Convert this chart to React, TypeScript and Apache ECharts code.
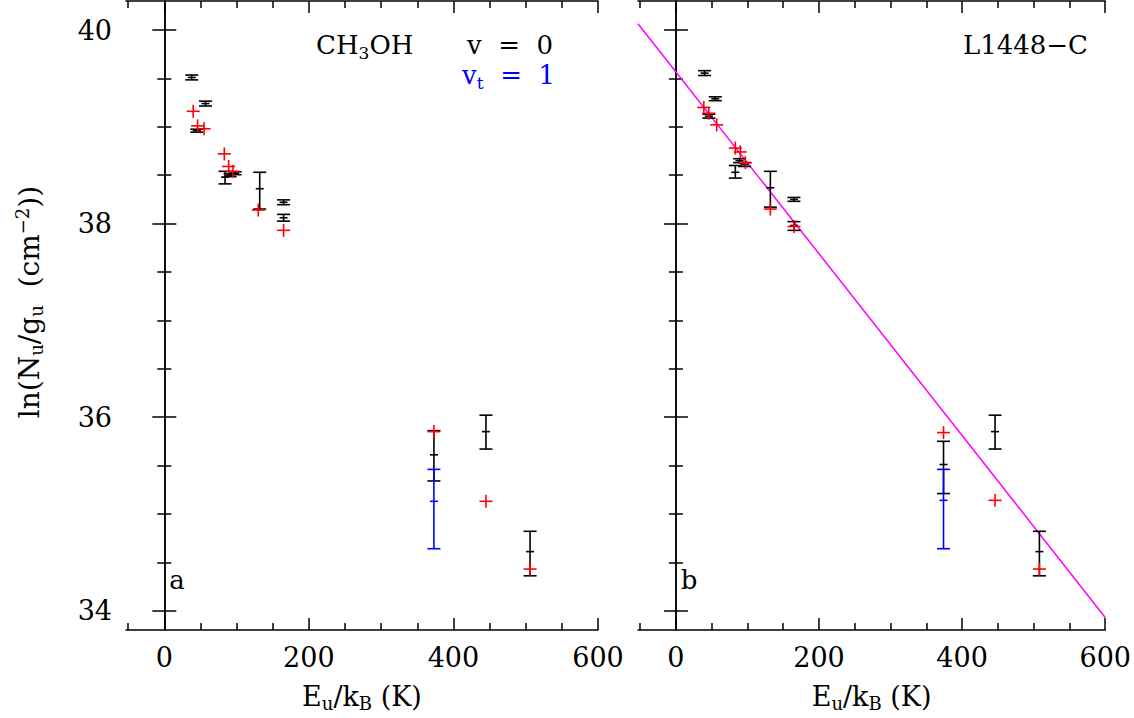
import React, { useEffect, useRef } from "react";
import * as echarts from "echarts";

// ---- axis ranges & ticks ----
const X_MIN = -53;
const X_MAX = 600;
const Y_MIN = 33.8;
const Y_MAX = 40.3;
const xMajorTicks = [0, 200, 400, 600];
const xMinorTicks = [-50, 50, 100, 150, 250, 300, 350, 450, 500, 550];
const yMajorTicks = [34, 36, 38, 40];
const yMinorTicks = [34.5, 35, 35.5, 36.5, 37, 37.5, 38.5, 39, 39.5];

// ---- panel a : v = 0 (black, with error bars) ----
const aV0E = [38, 45, 57, 84, 91, 98, 132, 165, 165, 373, 445, 506];
const aV0Ln = [39.51, 38.96, 39.24, 38.48, 38.5, 38.52, 38.36, 38.22, 38.06, 35.61, 35.85, 34.61];
const aV0Lo = [39.485, 38.945, 39.215, 38.41, 38.485, 38.505, 38.15, 38.195, 38.025, 35.34, 35.67, 34.36];
const aV0Hi = [39.535, 38.975, 39.265, 38.54, 38.515, 38.535, 38.53, 38.245, 38.095, 35.86, 36.02, 34.82];
// panel a : vt = 1 (blue)
const aVt1E = [373];
const aVt1Ln = [35.13];
const aVt1Lo = [34.64];
const aVt1Hi = [35.46];
// panel a : red crosses
const aRedE = [40, 46, 55, 83, 89, 95, 130, 165, 373, 445, 506];
const aRedLn = [39.16, 39.01, 38.98, 38.72, 38.59, 38.54, 38.14, 37.93, 35.85, 35.13, 34.43];

// ---- panel b ----
const bV0E = [40, 46, 55, 83, 89, 96, 132, 165, 165, 374, 446, 508];
const bV0Ln = [39.555, 39.11, 39.29, 38.53, 38.65, 38.61, 38.37, 38.25, 37.98, 35.51, 35.85, 34.61];
const bV0Lo = [39.53, 39.09, 39.27, 38.47, 38.63, 38.59, 38.17, 38.23, 37.93, 35.21, 35.67, 34.36];
const bV0Hi = [39.58, 39.13, 39.31, 38.6, 38.67, 38.63, 38.54, 38.27, 38.02, 35.75, 36.02, 34.82];
const bVt1E = [374];
const bVt1Ln = [35.14];
const bVt1Lo = [34.64];
const bVt1Hi = [35.46];
const bRedE = [39, 46, 57, 83, 90, 97, 132, 165, 374, 446, 508];
const bRedLn = [39.2, 39.14, 39.02, 38.78, 38.74, 38.63, 38.15, 37.97, 35.84, 35.14, 34.43];
// rotational-diagram fit (panel b)
const fitE = [-53, 600];
const fitLn = [40.065, 33.93];

const FONT = "DejaVu Serif";

const zip4 = (e: number[], v: number[], lo: number[], hi: number[]) =>
  e.map((x, i) => [x, v[i], lo[i], hi[i]]);
const zip2 = (e: number[], v: number[]) => e.map((x, i) => [x, v[i]]);

const errorBarItem = (color: string) => (_params: any, api: any) => {
  const x = api.value(0);
  const c = api.coord([x, api.value(1)]);
  const lo = api.coord([x, api.value(2)]);
  const hi = api.coord([x, api.value(3)]);
  const st = { stroke: color, lineWidth: 1.6 };
  const cap = 6.5;
  const mid = 4;
  return {
    type: "group",
    children: [
      { type: "line", shape: { x1: c[0], y1: lo[1], x2: c[0], y2: hi[1] }, style: st },
      { type: "line", shape: { x1: c[0] - cap, y1: lo[1], x2: c[0] + cap, y2: lo[1] }, style: st },
      { type: "line", shape: { x1: c[0] - cap, y1: hi[1], x2: c[0] + cap, y2: hi[1] }, style: st },
      { type: "line", shape: { x1: c[0] - mid, y1: c[1], x2: c[0] + mid, y2: c[1] }, style: st },
    ],
  };
};

const crossItem = (color: string) => (_params: any, api: any) => {
  const c = api.coord([api.value(0), api.value(1)]);
  const s = 6.5;
  const st = { stroke: color, lineWidth: 1.6 };
  return {
    type: "group",
    children: [
      { type: "line", shape: { x1: c[0] - s, y1: c[1], x2: c[0] + s, y2: c[1] }, style: st },
      { type: "line", shape: { x1: c[0], y1: c[1] - s, x2: c[0], y2: c[1] + s }, style: st },
    ],
  };
};

const richText = (size: number, color: string) => ({
  b: { fontFamily: FONT, fontSize: size, color, fill: color, lineHeight: 32 },
  s: { fontFamily: FONT, fontSize: Math.round(size * 0.65), color, fill: color, lineHeight: 12, verticalAlign: "bottom" },
  p: { fontFamily: FONT, fontSize: Math.round(size * 0.65), color, fill: color, lineHeight: 12, verticalAlign: "top" },
});

function buildOption() {
  const lineStyle = { color: "#000", width: 1.5 };
  const xAxes: any[] = [];
  const yAxes: any[] = [];
  [0, 1].forEach((g) => {
    const common = { type: "value", gridIndex: g, min: X_MIN, max: X_MAX, splitLine: { show: false } };
    xAxes.push({
      ...common,
      position: "bottom",
      axisLine: { show: true, lineStyle },
      axisTick: { show: true, inside: true, length: 12, lineStyle, customValues: xMajorTicks },
      axisLabel: {
        show: true,
        customValues: xMajorTicks,
        margin: 14,
        fontFamily: FONT,
        fontSize: 27,
        color: "#000",
      },
      name: "{b|E}{s|u}{b|/k}{s|B}{b|\u00a0(K)}",
      nameLocation: "middle",
      nameGap: 50,
      nameTextStyle: { rich: richText(27, "#000") },
    });
    xAxes.push({
      ...common,
      position: "bottom",
      axisLine: { show: false },
      axisTick: { show: true, inside: true, length: 7, lineStyle, customValues: xMinorTicks },
      axisLabel: { show: false },
    });
    xAxes.push({
      ...common,
      position: "top",
      axisLine: { show: true, lineStyle },
      axisTick: { show: true, inside: true, length: 12, lineStyle, customValues: xMajorTicks },
      axisLabel: { show: false },
    });
    xAxes.push({
      ...common,
      position: "top",
      axisLine: { show: false },
      axisTick: { show: true, inside: true, length: 7, lineStyle, customValues: xMinorTicks },
      axisLabel: { show: false },
    });

    const ycommon = { type: "value", gridIndex: g, min: Y_MIN, max: Y_MAX, splitLine: { show: false } };
    yAxes.push({
      ...ycommon,
      position: "left",
      axisLine: { show: true, lineStyle },
      axisTick: { show: true, inside: true, length: 12, lineStyle, customValues: yMajorTicks },
      axisLabel:
        g === 0
          ? { show: true, customValues: yMajorTicks, margin: 14, fontFamily: FONT, fontSize: 27, color: "#000" }
          : { show: false },
    });
    yAxes.push({
      ...ycommon,
      position: "left",
      axisLine: { show: false },
      axisTick: { show: true, inside: true, length: 7, lineStyle, customValues: yMinorTicks },
      axisLabel: { show: false },
    });
    yAxes.push({
      ...ycommon,
      position: "right",
      axisLine: { show: true, lineStyle },
      axisTick: { show: true, inside: true, length: 12, lineStyle, customValues: yMajorTicks },
      axisLabel: { show: false },
    });
    yAxes.push({
      ...ycommon,
      position: "right",
      axisLine: { show: false },
      axisTick: { show: true, inside: true, length: 7, lineStyle, customValues: yMinorTicks },
      axisLabel: { show: false },
    });
  });

  const custom = (g: number, data: any[], render: any, z: number) => ({
    type: "custom",
    xAxisIndex: g * 4,
    yAxisIndex: g * 4,
    data,
    renderItem: render,
    encode: { x: 0, y: 1 },
    z,
    silent: true,
  });

  const series: any[] = [
    custom(0, zip4(aV0E, aV0Ln, aV0Lo, aV0Hi), errorBarItem("#000000"), 2),
    custom(0, zip4(aVt1E, aVt1Ln, aVt1Lo, aVt1Hi), errorBarItem("#0000ff"), 3),
    custom(0, zip2(aRedE, aRedLn), crossItem("#ff0000"), 4),
    {
      type: "line",
      xAxisIndex: 4,
      yAxisIndex: 4,
      data: zip2(fitE, fitLn),
      symbol: "none",
      lineStyle: { color: "#ff00ff", width: 1.5 },
      z: 1,
      silent: true,
    },
    custom(1, zip4(bV0E, bV0Ln, bV0Lo, bV0Hi), errorBarItem("#000000"), 2),
    custom(1, zip4(bVt1E, bVt1Ln, bVt1Lo, bVt1Hi), errorBarItem("#0000ff"), 3),
    custom(1, zip2(bRedE, bRedLn), crossItem("#ff0000"), 4),
  ];

  const txt = (x: number, y: number, text: string, color: string, align: string, size = 26, rotation = 0) => ({
    type: "text",
    x,
    y,
    rotation,
    z: 10,
    style: {
      text,
      rich: richText(size, color),
      align,
      verticalAlign: "middle",
      fill: color,
      fontFamily: FONT,
      fontSize: size,
    },
  });

  return {
    animation: false,
    backgroundColor: "#ffffff",
    grid: [
      { left: 126, top: 1, width: 472, height: 629 },
      { left: 638, top: 1, width: 472, height: 629 },
    ],
    xAxis: xAxes,
    yAxis: yAxes,
    series,
    graphic: [
      txt(316, 45, "{b|CH}{s|3}{b|OH}", "#000000", "left"),
      txt(553, 45, "{b|v\u00a0\u00a0=\u00a0\u00a00}", "#000000", "right"),
      txt(555, 75, "{b|v}{s|t}{b|\u00a0\u00a0=\u00a0\u00a01}", "#0000ff", "right"),
      txt(1088, 45, "{b|L1448\u2212C}", "#000000", "right"),
      txt(177, 580, "{b|a}", "#000000", "center"),
      txt(689, 580, "{b|b}", "#000000", "center"),
      txt(
        29,
        302,
        "{b|ln(N}{s|u}{b|/g}{s|u}{b|\u00a0\u00a0(cm}{p|\u22122}{b|))}",
        "#000000",
        "center",
        28,
        Math.PI / 2
      ),
    ],
  };
}

export default function App() {
  const ref = useRef<HTMLDivElement>(null);
  useEffect(() => {
    if (!ref.current) return;
    const chart = echarts.init(ref.current, undefined, { renderer: "svg" });
    chart.setOption(buildOption() as any);
    return () => chart.dispose();
  }, []);
  return (
    <div
      ref={ref}
      style={{ position: "fixed", left: 0, top: 0, width: 1134, height: 718, background: "#fff" }}
    />
  );
}
